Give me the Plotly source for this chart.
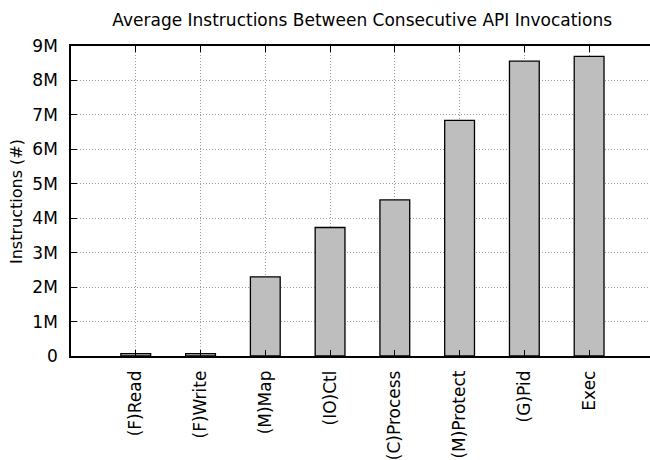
import plotly.graph_objects as go

categories = ["(F)Read", "(F)Write", "(M)Map", "(IO)Ctl", "(C)Process", "(M)Protect", "(G)Pid", "Exec"]
values = [70000, 70000, 2300000, 3730000, 4530000, 6840000, 8560000, 8700000]
y_tick_vals = [0, 1e6, 2e6, 3e6, 4e6, 5e6, 6e6, 7e6, 8e6, 9e6]
y_tick_text = ["0", "1M", "2M", "3M", "4M", "5M", "6M", "7M", "8M", "9M"]
title_text = "Average Instructions Between Consecutive API Invocations"
y_title = "Instructions (#)"

FONT = "DejaVu Sans, Liberation Sans, Arial, sans-serif"

fig = go.Figure()
fig.add_trace(go.Bar(
    x=categories,
    y=values,
    width=0.46,
    marker=dict(color="#bebebe", line=dict(color="#000000", width=1.3)),
))

fig.update_layout(
    width=650,
    height=460,
    margin=dict(l=71, r=0, t=46, b=104),
    paper_bgcolor="white",
    plot_bgcolor="white",
    showlegend=False,
    font=dict(family=FONT, size=17, color="black"),
    title=dict(
        text=title_text,
        x=0.503, xref="paper", xanchor="center",
        y=1 - 20 / 460, yref="container", yanchor="middle",
        font=dict(family=FONT, size=17, color="black"),
    ),
    annotations=[dict(
        text=y_title, textangle=-90,
        xref="paper", yref="paper",
        x=-71 / 579 + 17 / 579, y=(356 - 202) / 310,
        xanchor="center", yanchor="middle",
        showarrow=False,
        font=dict(family=FONT, size=16, color="black"),
    )],
)

fig.update_xaxes(
    type="category",
    range=[-1, 7.94],
    showline=True, linecolor="black", linewidth=1.5,
    mirror="ticks",
    ticks="inside", ticklen=6, tickcolor="black", tickwidth=1,
    showgrid=True, gridcolor="#9a9a9a", griddash="1px,2px", gridwidth=1,
    tickangle=-90,
    ticklabelstandoff=6,
    tickfont=dict(family=FONT, size=17, color="black"),
    zeroline=False,
)
fig.update_yaxes(
    range=[0, 9e6],
    tickvals=y_tick_vals,
    ticktext=y_tick_text,
    showline=True, linecolor="black", linewidth=1.5,
    mirror=False,
    ticks="inside", ticklen=6, tickcolor="black", tickwidth=1,
    showgrid=True, gridcolor="#9a9a9a", griddash="1px,2px", gridwidth=1,
    ticklabelstandoff=8,
    tickfont=dict(family=FONT, size=17, color="black"),
    zeroline=False,
)

fig.write_html("out.html")
